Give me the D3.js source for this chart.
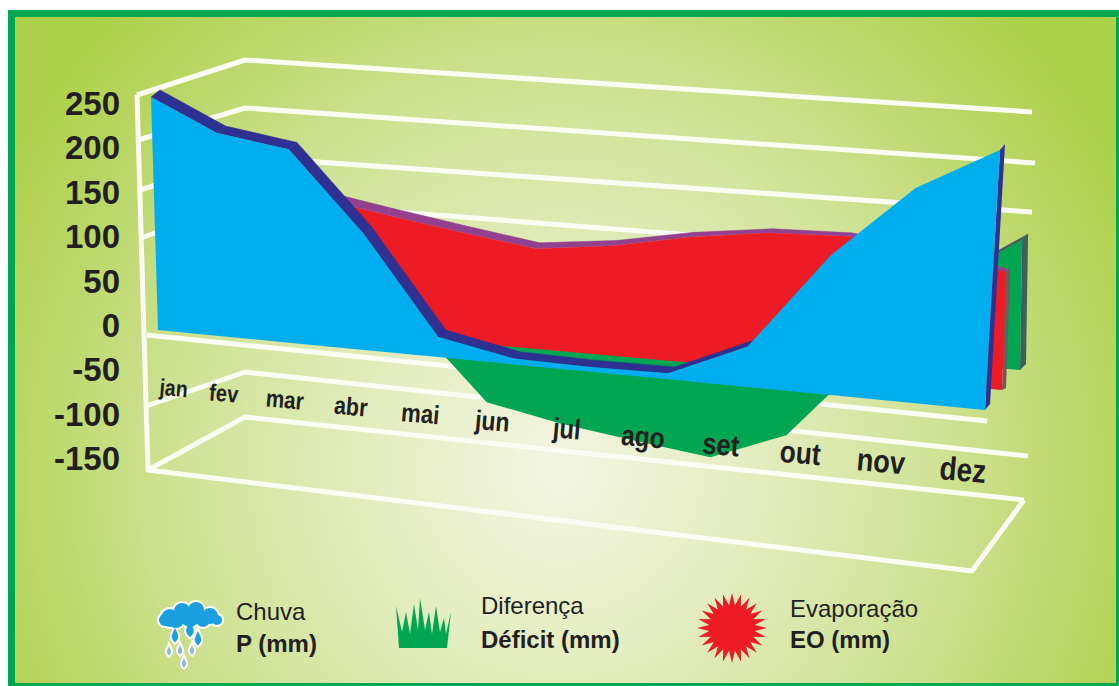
<!DOCTYPE html>
<html lang="pt">
<head>
<meta charset="utf-8">
<style>
  html, body { margin: 0; padding: 0; background: #fff; }
  svg { display: block; }
  text { font-family: "Liberation Sans", Arial, sans-serif; fill: #231f20; }
</style>
<script src="https://cdn.jsdelivr.net/npm/d3@7/dist/d3.min.js"></script>
</head>
<body>
<svg id="chart" width="1119" height="686"></svg>
<script>
// Balanço hídrico mensal: chuva, evaporação e déficit em três planos de profundidade.
const months = ["jan", "fev", "mar", "abr", "mai", "jun", "jul", "ago", "set", "out", "nov", "dez"];
const chuva = [250, 216, 204, 122, 21, 6, 5, 6, 40, 137, 208, 250];
const evaporacao = [130, 125, 146, 132, 119, 107, 116, 131, 141, 143, 135, 118];
const deficit = [115, 85, 50, 2, -79, -95, -106, -116, -86, -3, 81, 130];
const axisTicks = [250, 200, 150, 100, 50, 0, -50, -100, -150];
const gridLevels = [250, 200, 150, 100, -100, -150];

const svg = d3.select("#chart");
const W = 1119, H = 686;

const defs = svg.append("defs");
const glow = defs.append("radialGradient")
  .attr("id", "fundo").attr("gradientUnits", "userSpaceOnUse")
  .attr("cx", 560).attr("cy", 470).attr("r", 640);
[[0, "#f3f6e2"], [0.3, "#e4edc0"], [0.6, "#cfe294"], [0.85, "#b8d663"], [1, "#aed14a"]]
  .forEach(([o, c]) => glow.append("stop").attr("offset", o).attr("stop-color", c));

// Panel with its green rule
svg.append("rect").attr("x", 8).attr("y", 10).attr("width", W - 8).attr("height", H - 10).attr("fill", "#00a651");
svg.append("rect").attr("x", 15).attr("y", 17).attr("width", W - 15 - 3).attr("height", H - 17 - 3).attr("fill", "url(#fundo)");

// Month position along a plane, widening slightly toward the viewer
const monthPos = d3.scalePow().exponent(1.07).domain([0, 11]).range([0, 1]);

// A plane is described by its left and right edges as functions of the value
function plane(xL, yL, xR, yR) {
  const d = [0, 250];
  const lx = d3.scaleLinear().domain(d).range(xL), ly = d3.scaleLinear().domain(d).range(yL);
  const rx = d3.scaleLinear().domain(d).range(xR), ry = d3.scaleLinear().domain(d).range(yR);
  return (i, v) => {
    const s = monthPos(i);
    return [lx(v) + (rx(v) - lx(v)) * s, ly(v) + (ry(v) - ly(v)) * s];
  };
}
const planoChuva = plane([158, 151], [330, 97], [985, 1000], [410, 150]);
const planoEvap = plane([185, 178], [318, 96], [1002, 1011], [390, 140]);
const planoDef = plane([212, 205], [308, 86], [1020, 1024], [370, 120]);

const path = d3.line();

// Wall and floor lines
const wall = svg.append("g").attr("fill", "none").attr("stroke", "#fcfdf2")
  .attr("stroke-width", 5).attr("stroke-linejoin", "round");
const gd = [-150, -100, 100, 150, 200, 250];
const frontY = d3.scaleLinear().domain(gd).range([470, 406, 238, 190, 140, 95]);
const frontX = d3.scaleLinear().domain([-150, 250]).range([148, 137]);
const backY = d3.scaleLinear().domain(gd).range([417, 372, 200, 157, 108, 60]);
const rightY = d3.scaleLinear().domain(gd).range([500, 456, 261, 212, 163, 112]);
const rightX = d3.scaleOrdinal().domain(gd).range([1024, 1028, 1022, 1032, 1035, 1032]);
wall.selectAll("path.grade").data(gridLevels).join("path").attr("class", "grade")
  .attr("d", v => path([[frontX(v), frontY(v)], [245, backY(v)], [rightX(v), rightY(v)]]));
wall.append("path").attr("d", path([[frontX(250), frontY(250)], [frontX(-150), frontY(-150)], [972, 571], [1024, rightY(-150)]]));
wall.append("path").attr("d", path([[147, 335], [987, 421]]));

// Face of a series, plus the band its thickness shows behind the face
function series(values, proj, face, side, end, offset, sideFilter) {
  const g = svg.append("g");
  const pts = values.map((v, i) => proj(i, v));
  const shift = (p, i) => { const o = offset(monthPos(i)); return [p[0] + o[0], p[1] + o[1]]; };
  const n = values.length - 1;
  d3.range(n).filter(i => sideFilter(values[i], values[i + 1])).forEach(i => {
    g.append("path").attr("fill", side).attr("stroke", side).attr("stroke-width", 0.5)
      .attr("d", path([pts[i], pts[i + 1], shift(pts[i + 1], i + 1), shift(pts[i], i)]) + "Z");
  });
  const baseEnd = proj(n, 0);
  g.append("path").attr("fill", end)
    .attr("d", path([pts[n], shift(pts[n], n), shift(baseEnd, n), baseEnd]) + "Z");
  const base = values.map((v, i) => proj(i, 0)).reverse();
  g.append("path").attr("fill", face).attr("d", path(pts.concat(base)) + "Z");
}
const lerp = (a, b) => s => [a[0] + (b[0] - a[0]) * s, a[1] + (b[1] - a[1]) * s];

series(deficit, planoDef, "#00a651", "#3f5f5f", "#3f5f5f", lerp([6, -6], [6, -6]), (a, b) => a > 0 && b > 0);
series(evaporacao, planoEvap, "#ed1c24", "#93408f", "#6e5c5c", lerp([3, -9], [4, -2]), () => true);
series(chuva, planoChuva, "#00aeef", "#2e3192", "#2e3192", lerp([9, -7], [5, -6]), (a, b) => b - a < 40);

// Value axis
svg.append("g").attr("text-anchor", "end").attr("font-weight", "bold").attr("font-size", 33)
  .selectAll("text").data(axisTicks).join("text")
  .attr("x", 120)
  .attr("y", d3.scaleLinear().domain([250, -150]).range([115, 470]))
  .text(d => d);

// Month labels, growing toward the viewer and narrowed like the lettering on the floor
const labelX = d3.scalePow().exponent(1.15).domain([0, 11]).range([173, 962]);
const labelY = d3.scaleLinear().domain([173, 962]).range([396, 481]);
const labelSize = d3.scaleLinear().domain([173, 962]).range([23, 33]);
svg.append("g").attr("text-anchor", "middle").attr("font-weight", "bold")
  .selectAll("text").data(months).join("text")
  .attr("font-size", (d, i) => labelSize(labelX(i)))
  .attr("transform", (d, i) => `translate(${labelX(i)},${labelY(labelX(i))}) rotate(5) scale(0.85,1)`)
  .text(d => d);

// Legend: rain cloud
const cloud = svg.append("g");
const puffs = [[170, 618, 9], [182, 611, 8], [196, 610, 8], [210, 616, 8], [165, 620, 6], [190, 617, 10], [176, 620, 8], [203, 620, 7], [217, 620, 5]];
const drops = [[190, 631, 7], [175, 637, 6], [198, 640, 6], [169, 652, 4], [180, 651, 4], [192, 651, 4], [184, 664, 4]];
const dropPath = ([x, y, r]) => `M${x},${y - r * 1.5}C${x + r * 0.4},${y - r * 0.5} ${x + r},${y} ${x},${y + r * 0.9}C${x - r},${y} ${x - r * 0.4},${y - r * 0.5} ${x},${y - r * 1.5}Z`;
cloud.selectAll("circle.halo").data(puffs).join("circle").attr("class", "halo")
  .attr("cx", d => d[0]).attr("cy", d => d[1]).attr("r", d => d[2] + 2).attr("fill", "#fff");
cloud.selectAll("path.halo").data(drops).join("path").attr("class", "halo")
  .attr("d", dropPath).attr("fill", "#fff").attr("stroke", "#fff").attr("stroke-width", 4);
cloud.selectAll("circle.nuvem").data(puffs).join("circle").attr("class", "nuvem")
  .attr("cx", d => d[0]).attr("cy", d => d[1]).attr("r", d => d[2]).attr("fill", "#1c9fe0");
cloud.selectAll("path.gota").data(drops).join("path").attr("class", "gota")
  .attr("d", dropPath).attr("fill", (d, i) => i < 3 ? "#1c9fe0" : "#8fb8d8");

// Legend: tuft of grass, tip then notch for each blade
const blades = [[396, 606], [402, 632], [406, 612], [410, 634], [414, 604], [418, 630], [420, 598], [425, 630], [429, 612], [432, 634], [436, 606], [440, 632], [444, 618], [446, 634], [451, 612]];
const tuft = [[399, 648]].concat(blades).concat([[447, 648]]);
svg.append("path").attr("fill", "#00a651").attr("d", path(tuft) + "Z");

// Legend: evaporation burst
const spikes = 24;
const burst = d3.lineRadial().angle(d => d[0]).radius(d => d[1]).curve(d3.curveLinearClosed);
svg.append("path").attr("fill", "#ed1c24").attr("transform", "translate(732,628)")
  .attr("d", burst(d3.range(spikes * 2).map(i => [i * Math.PI / spikes, i % 2 ? 23 : 35])));

// Legend captions
const legend = [
  { x: 236, top: "Chuva", topY: 620, bold: "P (mm)", boldY: 652 },
  { x: 481, top: "Diferença", topY: 614, bold: "Déficit (mm)", boldY: 648 },
  { x: 790, top: "Evaporação", topY: 617, bold: "EO (mm)", boldY: 648 }
];
const caption = svg.append("g").attr("font-size", 24);
caption.selectAll("text.linha").data(legend).join("text").attr("class", "linha")
  .attr("x", d => d.x).attr("y", d => d.topY).text(d => d.top);
caption.selectAll("text.negrito").data(legend).join("text").attr("class", "negrito")
  .attr("x", d => d.x).attr("y", d => d.boldY).attr("font-weight", "bold").text(d => d.bold);
</script>
</body>
</html>
